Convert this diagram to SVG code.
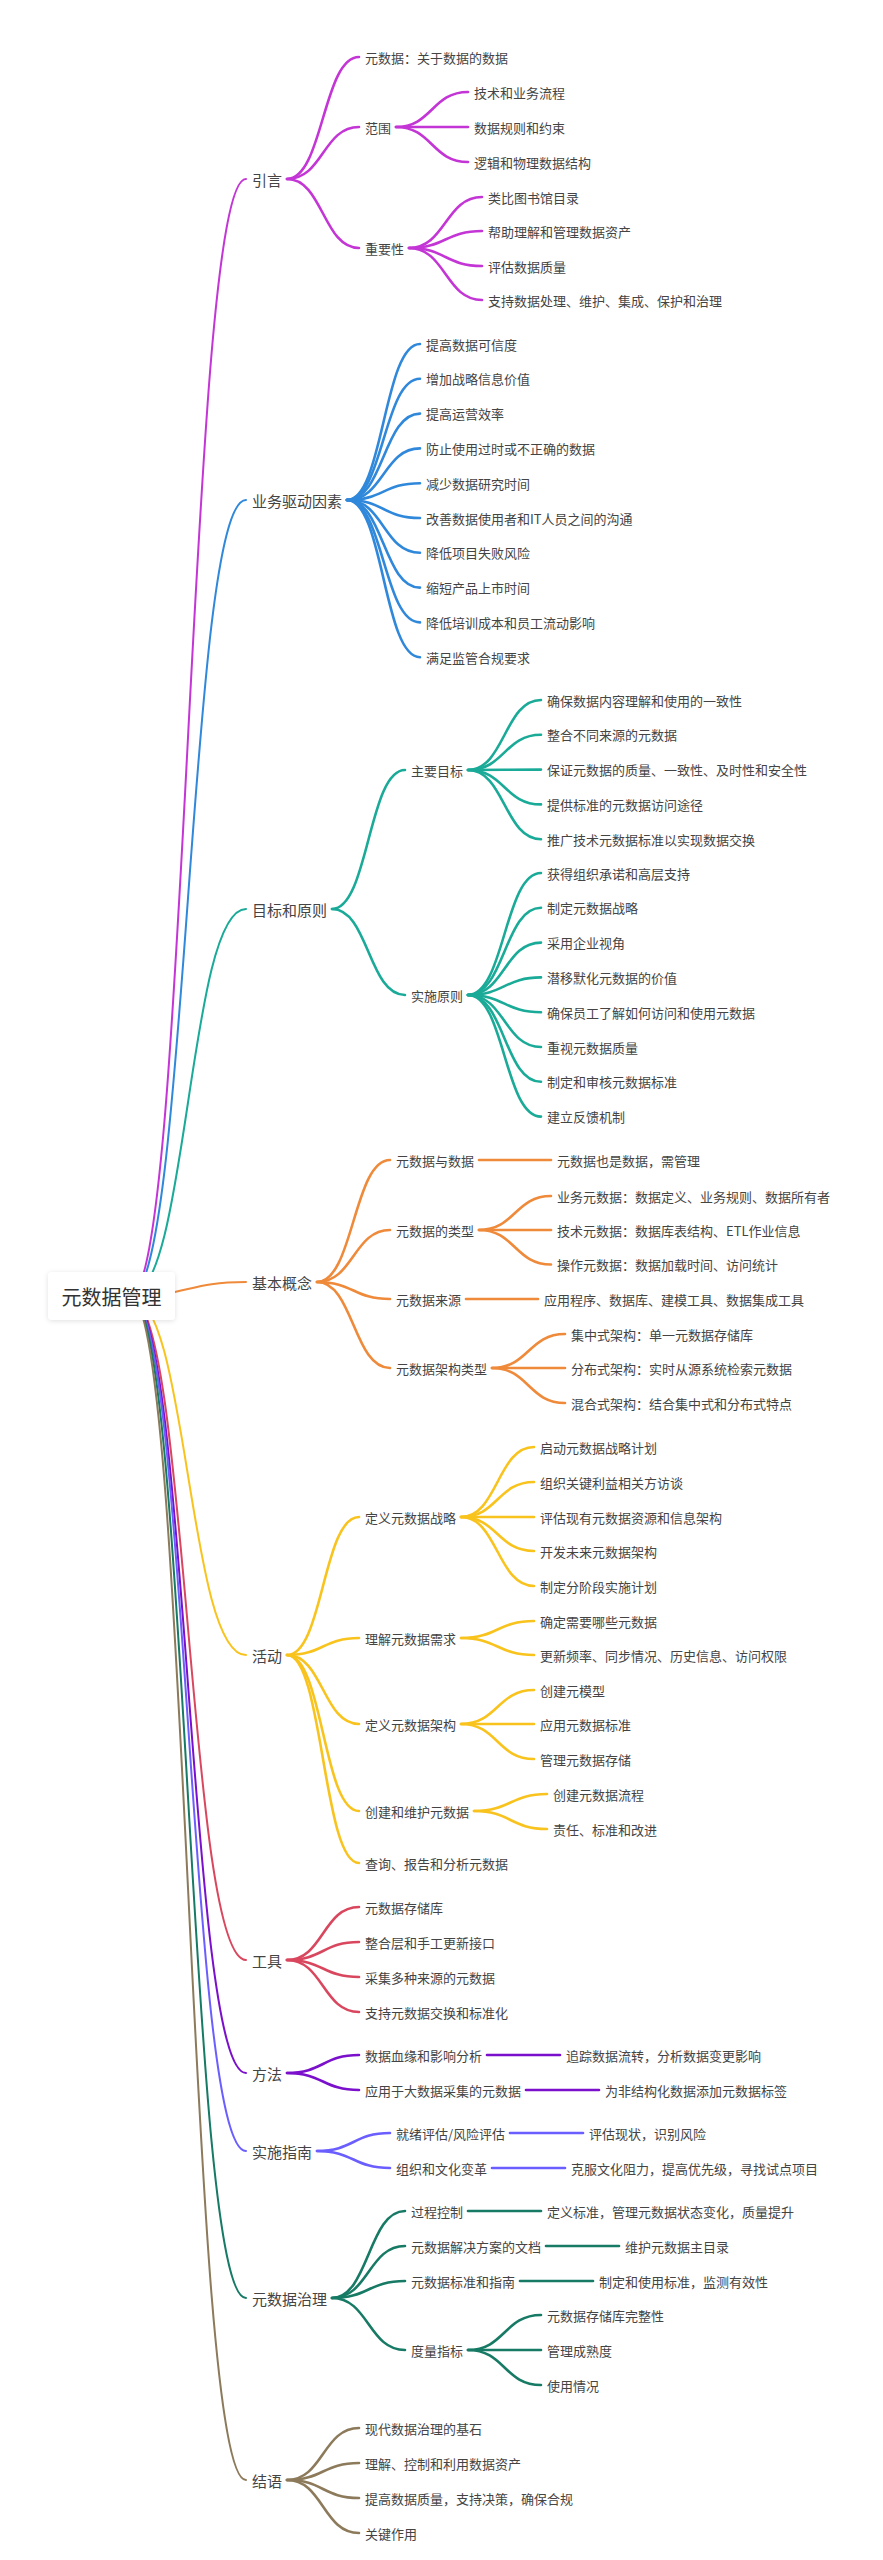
<svg xmlns="http://www.w3.org/2000/svg" width="883" height="2560" viewBox="0 0 883 2560">
<defs>
<style>
text{font-family:"Noto Sans CJK SC","Noto Sans",sans-serif;fill:#444;dominant-baseline:central}
.l3{font-size:13px}
.l2{font-size:13px}
.l1{font-size:15px}
.root{font-size:20px;fill:#333;text-anchor:middle}
path{fill:none;stroke-linecap:round}
.r{stroke-width:2}
.b{stroke-width:2.6}
.c1{stroke:#C435D6}.c2{stroke:#3088DB}.c3{stroke:#1AAA98}.c4{stroke:#EE8A3A}.c5{stroke:#F9C31E}
.c6{stroke:#D9475E}.c7{stroke:#7B10CC}.c8{stroke:#6B5EFF}.c9{stroke:#167A64}.c10{stroke:#8C7A5B}
</style>
<filter id="sh" x="-20%" y="-30%" width="140%" height="160%">
<feDropShadow dx="0" dy="1" stdDeviation="2.5" flood-color="#000" flood-opacity="0.12"/>
</filter>
</defs>
<rect width="883" height="2560" fill="#fff"/>
<g id="connectors">
<!-- root lines -->
<path class="r c1" d="M130 1296 C188 1296 188 179 246 179"/>
<path class="r c2" d="M130 1296 C188 1296 188 500 246 500"/>
<path class="r c3" d="M130 1296 C188 1296 188 909 246 909"/>
<path class="r c4" d="M130 1296 C188 1296 188 1282 246 1282"/>
<path class="r c5" d="M130 1296 C188 1296 188 1655 246 1655"/>
<path class="r c6" d="M130 1296 C188 1296 188 1960 246 1960"/>
<path class="r c7" d="M130 1296 C188 1296 188 2073 246 2073"/>
<path class="r c8" d="M130 1296 C188 1296 188 2151 246 2151"/>
<path class="r c9" d="M130 1296 C188 1296 188 2298 246 2298"/>
<path class="r c10" d="M130 1296 C188 1296 188 2480 246 2480"/>
<!-- 引言 -->
<path class="b c1" d="M287 179 C323 179 323 57 359 57"/>
<path class="b c1" d="M287 179 C323 179 323 127 359 127"/>
<path class="b c1" d="M287 179 C323 179 323 248 359 248"/>
<path class="b c1" d="M396 127 C432 127 432 92 468 92"/>
<path class="b c1" d="M396 127 C432 127 432 127 468 127"/>
<path class="b c1" d="M396 127 C432 127 432 162 468 162"/>
<path class="b c1" d="M409 248 C445.5 248 445.5 197 482 197"/>
<path class="b c1" d="M409 248 C445.5 248 445.5 231 482 231"/>
<path class="b c1" d="M409 248 C445.5 248 445.5 266 482 266"/>
<path class="b c1" d="M409 248 C445.5 248 445.5 300 482 300"/>
<!-- 业务驱动因素 -->
<path class="b c2" d="M347 500 C383.5 500 383.5 344 420 344"/>
<path class="b c2" d="M347 500 C383.5 500 383.5 378.8 420 378.8"/>
<path class="b c2" d="M347 500 C383.5 500 383.5 413.6 420 413.6"/>
<path class="b c2" d="M347 500 C383.5 500 383.5 448.4 420 448.4"/>
<path class="b c2" d="M347 500 C383.5 500 383.5 483.2 420 483.2"/>
<path class="b c2" d="M347 500 C383.5 500 383.5 518 420 518"/>
<path class="b c2" d="M347 500 C383.5 500 383.5 552.8 420 552.8"/>
<path class="b c2" d="M347 500 C383.5 500 383.5 587.6 420 587.6"/>
<path class="b c2" d="M347 500 C383.5 500 383.5 622.4 420 622.4"/>
<path class="b c2" d="M347 500 C383.5 500 383.5 657.2 420 657.2"/>
<!-- 目标和原则 -->
<path class="b c3" d="M332 909 C368.5 909 368.5 770 405 770"/>
<path class="b c3" d="M332 909 C368.5 909 368.5 995 405 995"/>
<path class="b c3" d="M468 770 C504.5 770 504.5 700 541 700"/>
<path class="b c3" d="M468 770 C504.5 770 504.5 734.8 541 734.8"/>
<path class="b c3" d="M468 770 C504.5 770 504.5 769.6 541 769.6"/>
<path class="b c3" d="M468 770 C504.5 770 504.5 804.4 541 804.4"/>
<path class="b c3" d="M468 770 C504.5 770 504.5 839.2 541 839.2"/>
<path class="b c3" d="M468 995 C504.5 995 504.5 873 541 873"/>
<path class="b c3" d="M468 995 C504.5 995 504.5 907.8 541 907.8"/>
<path class="b c3" d="M468 995 C504.5 995 504.5 942.6 541 942.6"/>
<path class="b c3" d="M468 995 C504.5 995 504.5 977.4 541 977.4"/>
<path class="b c3" d="M468 995 C504.5 995 504.5 1012.2 541 1012.2"/>
<path class="b c3" d="M468 995 C504.5 995 504.5 1047 541 1047"/>
<path class="b c3" d="M468 995 C504.5 995 504.5 1081.8 541 1081.8"/>
<path class="b c3" d="M468 995 C504.5 995 504.5 1116.6 541 1116.6"/>
<!-- 基本概念 -->
<path class="b c4" d="M317 1282 C353.5 1282 353.5 1160 390 1160"/>
<path class="b c4" d="M317 1282 C353.5 1282 353.5 1230 390 1230"/>
<path class="b c4" d="M317 1282 C353.5 1282 353.5 1299 390 1299"/>
<path class="b c4" d="M317 1282 C353.5 1282 353.5 1368 390 1368"/>
<path class="b c4" d="M479 1160 L551 1160"/>
<path class="b c4" d="M479 1230 C515 1230 515 1196 551 1196"/>
<path class="b c4" d="M479 1230 C515 1230 515 1230 551 1230"/>
<path class="b c4" d="M479 1230 C515 1230 515 1264.5 551 1264.5"/>
<path class="b c4" d="M466 1299 L538 1299"/>
<path class="b c4" d="M492 1368 C528.5 1368 528.5 1334 565 1334"/>
<path class="b c4" d="M492 1368 C528.5 1368 528.5 1368 565 1368"/>
<path class="b c4" d="M492 1368 C528.5 1368 528.5 1403 565 1403"/>
<!-- 活动 -->
<path class="b c5" d="M287 1655 C323 1655 323 1517 359 1517"/>
<path class="b c5" d="M287 1655 C323 1655 323 1638 359 1638"/>
<path class="b c5" d="M287 1655 C323 1655 323 1724 359 1724"/>
<path class="b c5" d="M287 1655 C323 1655 323 1811 359 1811"/>
<path class="b c5" d="M287 1655 C323 1655 323 1863 359 1863"/>
<path class="b c5" d="M461 1517 C497.5 1517 497.5 1447 534 1447"/>
<path class="b c5" d="M461 1517 C497.5 1517 497.5 1482 534 1482"/>
<path class="b c5" d="M461 1517 C497.5 1517 497.5 1517 534 1517"/>
<path class="b c5" d="M461 1517 C497.5 1517 497.5 1551 534 1551"/>
<path class="b c5" d="M461 1517 C497.5 1517 497.5 1586 534 1586"/>
<path class="b c5" d="M461 1638 C497.5 1638 497.5 1621 534 1621"/>
<path class="b c5" d="M461 1638 C497.5 1638 497.5 1655 534 1655"/>
<path class="b c5" d="M461 1724 C497.5 1724 497.5 1690 534 1690"/>
<path class="b c5" d="M461 1724 C497.5 1724 497.5 1724 534 1724"/>
<path class="b c5" d="M461 1724 C497.5 1724 497.5 1759 534 1759"/>
<path class="b c5" d="M474 1811 C510.5 1811 510.5 1794 547 1794"/>
<path class="b c5" d="M474 1811 C510.5 1811 510.5 1829 547 1829"/>
<!-- 工具 -->
<path class="b c6" d="M287 1960 C323 1960 323 1907 359 1907"/>
<path class="b c6" d="M287 1960 C323 1960 323 1942 359 1942"/>
<path class="b c6" d="M287 1960 C323 1960 323 1977 359 1977"/>
<path class="b c6" d="M287 1960 C323 1960 323 2012 359 2012"/>
<!-- 方法 -->
<path class="b c7" d="M287 2073 C323 2073 323 2055 359 2055"/>
<path class="b c7" d="M287 2073 C323 2073 323 2090 359 2090"/>
<path class="b c7" d="M487 2055 L560 2055"/>
<path class="b c7" d="M526 2090 L599 2090"/>
<!-- 实施指南 -->
<path class="b c8" d="M317 2151 C353.5 2151 353.5 2133 390 2133"/>
<path class="b c8" d="M317 2151 C353.5 2151 353.5 2168 390 2168"/>
<path class="b c8" d="M510 2133 L583 2133"/>
<path class="b c8" d="M492 2168 L565 2168"/>
<!-- 元数据治理 -->
<path class="b c9" d="M332 2298 C368.5 2298 368.5 2211 405 2211"/>
<path class="b c9" d="M332 2298 C368.5 2298 368.5 2246 405 2246"/>
<path class="b c9" d="M332 2298 C368.5 2298 368.5 2281 405 2281"/>
<path class="b c9" d="M332 2298 C368.5 2298 368.5 2350 405 2350"/>
<path class="b c9" d="M468 2211 L541 2211"/>
<path class="b c9" d="M546 2246 L619 2246"/>
<path class="b c9" d="M520 2281 L593 2281"/>
<path class="b c9" d="M468 2350 C504.5 2350 504.5 2315 541 2315"/>
<path class="b c9" d="M468 2350 C504.5 2350 504.5 2350 541 2350"/>
<path class="b c9" d="M468 2350 C504.5 2350 504.5 2385 541 2385"/>
<!-- 结语 -->
<path class="b c10" d="M287 2480 C323 2480 323 2428 359 2428"/>
<path class="b c10" d="M287 2480 C323 2480 323 2463 359 2463"/>
<path class="b c10" d="M287 2480 C323 2480 323 2498 359 2498"/>
<path class="b c10" d="M287 2480 C323 2480 323 2533 359 2533"/>
</g>
<g id="root">
<rect x="48" y="1272" width="127" height="48" rx="4" fill="#fff" filter="url(#sh)"/>
<text class="root" x="111.5" y="1296">元数据管理</text>
</g>
<g id="n-yinyan">
<text class="l1" x="252" y="179">引言</text>
<text class="l2" x="365" y="57">元数据：关于数据的数据</text>
<text class="l2" x="365" y="127">范围</text>
<text class="l3" x="474" y="92">技术和业务流程</text>
<text class="l3" x="474" y="127">数据规则和约束</text>
<text class="l3" x="474" y="162">逻辑和物理数据结构</text>
<text class="l2" x="365" y="248">重要性</text>
<text class="l3" x="488" y="197">类比图书馆目录</text>
<text class="l3" x="488" y="231">帮助理解和管理数据资产</text>
<text class="l3" x="488" y="266">评估数据质量</text>
<text class="l3" x="488" y="300">支持数据处理、维护、集成、保护和治理</text>
</g>
<g id="n-yewu">
<text class="l1" x="252" y="500">业务驱动因素</text>
<text class="l2" x="426" y="344">提高数据可信度</text>
<text class="l2" x="426" y="378.8">增加战略信息价值</text>
<text class="l2" x="426" y="413.6">提高运营效率</text>
<text class="l2" x="426" y="448.4">防止使用过时或不正确的数据</text>
<text class="l2" x="426" y="483.2">减少数据研究时间</text>
<text class="l2" x="426" y="518">改善数据使用者和IT人员之间的沟通</text>
<text class="l2" x="426" y="552.8">降低项目失败风险</text>
<text class="l2" x="426" y="587.6">缩短产品上市时间</text>
<text class="l2" x="426" y="622.4">降低培训成本和员工流动影响</text>
<text class="l2" x="426" y="657.2">满足监管合规要求</text>
</g>
<g id="n-mubiao">
<text class="l1" x="252" y="909">目标和原则</text>
<text class="l2" x="411" y="770">主要目标</text>
<text class="l3" x="547" y="700">确保数据内容理解和使用的一致性</text>
<text class="l3" x="547" y="734.8">整合不同来源的元数据</text>
<text class="l3" x="547" y="769.6">保证元数据的质量、一致性、及时性和安全性</text>
<text class="l3" x="547" y="804.4">提供标准的元数据访问途径</text>
<text class="l3" x="547" y="839.2">推广技术元数据标准以实现数据交换</text>
<text class="l2" x="411" y="995">实施原则</text>
<text class="l3" x="547" y="873">获得组织承诺和高层支持</text>
<text class="l3" x="547" y="907.8">制定元数据战略</text>
<text class="l3" x="547" y="942.6">采用企业视角</text>
<text class="l3" x="547" y="977.4">潜移默化元数据的价值</text>
<text class="l3" x="547" y="1012.2">确保员工了解如何访问和使用元数据</text>
<text class="l3" x="547" y="1047">重视元数据质量</text>
<text class="l3" x="547" y="1081.8">制定和审核元数据标准</text>
<text class="l3" x="547" y="1116.6">建立反馈机制</text>
</g>
<g id="n-jiben">
<text class="l1" x="252" y="1282">基本概念</text>
<text class="l2" x="396" y="1160">元数据与数据</text>
<text class="l3" x="557" y="1160">元数据也是数据，需管理</text>
<text class="l2" x="396" y="1230">元数据的类型</text>
<text class="l3" x="557" y="1196">业务元数据：数据定义、业务规则、数据所有者</text>
<text class="l3" x="557" y="1230">技术元数据：数据库表结构、ETL作业信息</text>
<text class="l3" x="557" y="1264.5">操作元数据：数据加载时间、访问统计</text>
<text class="l2" x="396" y="1299">元数据来源</text>
<text class="l3" x="544" y="1299">应用程序、数据库、建模工具、数据集成工具</text>
<text class="l2" x="396" y="1368">元数据架构类型</text>
<text class="l3" x="571" y="1334">集中式架构：单一元数据存储库</text>
<text class="l3" x="571" y="1368">分布式架构：实时从源系统检索元数据</text>
<text class="l3" x="571" y="1403">混合式架构：结合集中式和分布式特点</text>
</g>
<g id="n-huodong">
<text class="l1" x="252" y="1655">活动</text>
<text class="l2" x="365" y="1517">定义元数据战略</text>
<text class="l3" x="540" y="1447">启动元数据战略计划</text>
<text class="l3" x="540" y="1482">组织关键利益相关方访谈</text>
<text class="l3" x="540" y="1517">评估现有元数据资源和信息架构</text>
<text class="l3" x="540" y="1551">开发未来元数据架构</text>
<text class="l3" x="540" y="1586">制定分阶段实施计划</text>
<text class="l2" x="365" y="1638">理解元数据需求</text>
<text class="l3" x="540" y="1621">确定需要哪些元数据</text>
<text class="l3" x="540" y="1655">更新频率、同步情况、历史信息、访问权限</text>
<text class="l2" x="365" y="1724">定义元数据架构</text>
<text class="l3" x="540" y="1690">创建元模型</text>
<text class="l3" x="540" y="1724">应用元数据标准</text>
<text class="l3" x="540" y="1759">管理元数据存储</text>
<text class="l2" x="365" y="1811">创建和维护元数据</text>
<text class="l3" x="553" y="1794">创建元数据流程</text>
<text class="l3" x="553" y="1829">责任、标准和改进</text>
<text class="l2" x="365" y="1863">查询、报告和分析元数据</text>
</g>
<g id="n-gongju">
<text class="l1" x="252" y="1960">工具</text>
<text class="l2" x="365" y="1907">元数据存储库</text>
<text class="l2" x="365" y="1942">整合层和手工更新接口</text>
<text class="l2" x="365" y="1977">采集多种来源的元数据</text>
<text class="l2" x="365" y="2012">支持元数据交换和标准化</text>
</g>
<g id="n-fangfa">
<text class="l1" x="252" y="2073">方法</text>
<text class="l2" x="365" y="2055">数据血缘和影响分析</text>
<text class="l3" x="566" y="2055">追踪数据流转，分析数据变更影响</text>
<text class="l2" x="365" y="2090">应用于大数据采集的元数据</text>
<text class="l3" x="605" y="2090">为非结构化数据添加元数据标签</text>
</g>
<g id="n-shishi">
<text class="l1" x="252" y="2151">实施指南</text>
<text class="l2" x="396" y="2133">就绪评估/风险评估</text>
<text class="l3" x="589" y="2133">评估现状，识别风险</text>
<text class="l2" x="396" y="2168">组织和文化变革</text>
<text class="l3" x="571" y="2168">克服文化阻力，提高优先级，寻找试点项目</text>
</g>
<g id="n-zhili">
<text class="l1" x="252" y="2298">元数据治理</text>
<text class="l2" x="411" y="2211">过程控制</text>
<text class="l3" x="547" y="2211">定义标准，管理元数据状态变化，质量提升</text>
<text class="l2" x="411" y="2246">元数据解决方案的文档</text>
<text class="l3" x="625" y="2246">维护元数据主目录</text>
<text class="l2" x="411" y="2281">元数据标准和指南</text>
<text class="l3" x="599" y="2281">制定和使用标准，监测有效性</text>
<text class="l2" x="411" y="2350">度量指标</text>
<text class="l3" x="547" y="2315">元数据存储库完整性</text>
<text class="l3" x="547" y="2350">管理成熟度</text>
<text class="l3" x="547" y="2385">使用情况</text>
</g>
<g id="n-jieyu">
<text class="l1" x="252" y="2480">结语</text>
<text class="l2" x="365" y="2428">现代数据治理的基石</text>
<text class="l2" x="365" y="2463">理解、控制和利用数据资产</text>
<text class="l2" x="365" y="2498">提高数据质量，支持决策，确保合规</text>
<text class="l2" x="365" y="2533">关键作用</text>
</g>
</svg>
